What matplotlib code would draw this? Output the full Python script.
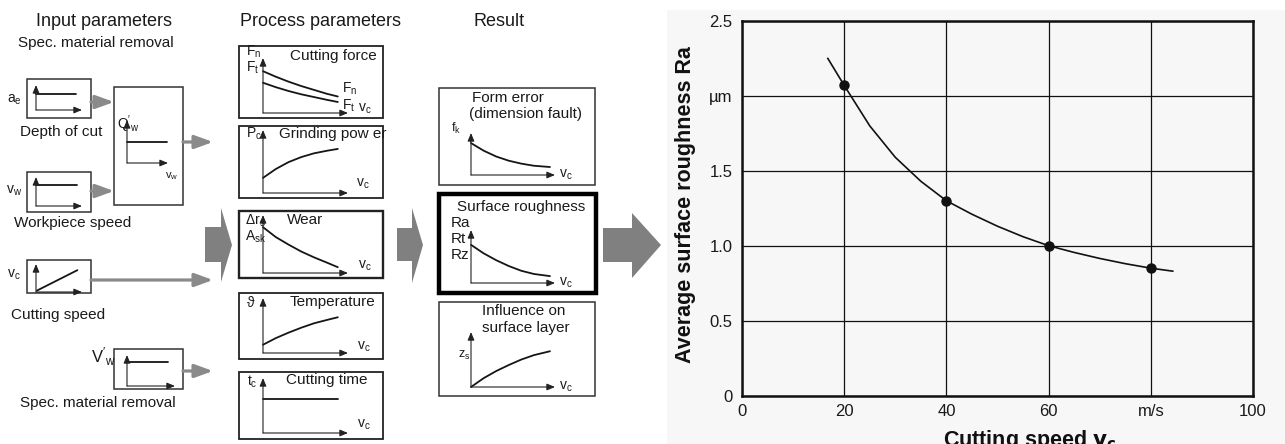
import matplotlib
matplotlib.use("Agg")
import matplotlib.pyplot as plt
from matplotlib.patches import Rectangle, Polygon

plt.rcParams['font.family'] = ['Liberation Sans', 'DejaVu Sans']
plt.rcParams['mathtext.fontset'] = 'custom'
plt.rcParams['mathtext.rm'] = 'Liberation Sans'
plt.rcParams['mathtext.it'] = 'Liberation Sans'
plt.rcParams['mathtext.default'] = 'regular'

# ---------------- data: main chart ----------------
speed_curve = [16.8, 20, 25, 30, 35, 40, 45, 50, 55, 60, 65, 70, 75, 80, 84.3]
ra_curve = [2.25, 2.07, 1.80, 1.59, 1.43, 1.30, 1.21, 1.13, 1.06, 1.00, 0.955, 0.915, 0.88, 0.85, 0.83]
speed_pts = [20, 40, 60, 80]
ra_pts = [2.07, 1.30, 1.00, 0.85]
x_ticks = [0, 20, 40, 60, 80, 100]
x_ticklabels = ['0', '20', '40', '60', 'm/s', '100']
y_ticks = [0, 0.5, 1.0, 1.5, 2.0, 2.5]
y_ticklabels = ['0', '0.5', '1.0', '1.5', 'µm', '2.5']

# ---------------- data: schematic sketches (normalised) ----------------
vc_proc = [0, 0.15, 0.30, 0.45, 0.60, 0.75, 0.88]
force_n = [0.76, 0.66, 0.57, 0.49, 0.42, 0.35, 0.30]
force_t = [0.55, 0.47, 0.40, 0.34, 0.29, 0.24, 0.20]
power_c = [0.24, 0.38, 0.49, 0.57, 0.63, 0.67, 0.70]
wear_s = [0.79, 0.62, 0.49, 0.37, 0.27, 0.18, 0.10]
temp_s = [0.15, 0.27, 0.37, 0.46, 0.54, 0.60, 0.65]
time_c = [0.62, 0.62, 0.62, 0.62, 0.62, 0.62, 0.62]
vc_res = [0, 0.15, 0.30, 0.45, 0.60, 0.75, 0.94]
form_k = [0.76, 0.58, 0.44, 0.34, 0.27, 0.22, 0.19]
rough_s = [0.72, 0.56, 0.43, 0.32, 0.23, 0.17, 0.13]
layer_z = [0.0, 0.16, 0.29, 0.40, 0.50, 0.58, 0.65]
ae_x, ae_y = [0, 0.87], [0.64, 0.64]
qw_x, qw_y = [0, 0.98], [0.49, 0.49]
vw_x, vw_y = [0, 0.90], [0.72, 0.72]
vc_x, vc_y = [0.02, 0.90], [0.05, 0.78]
Vw_x, Vw_y = [0, 0.85], [0.77, 0.77]

W, H = 1285, 444
fig = plt.figure(figsize=(W / 100, H / 100), dpi=100)


def fr(x0, y0, x1, y1):
    return [x0 / W, 1 - y1 / H, (x1 - x0) / W, (y1 - y0) / H]


cv = fig.add_axes([0, 0, 1, 1])
cv.set_xlim(0, W)
cv.set_ylim(H, 0)
cv.axis('off')

# faint page tint behind chart
cv.add_patch(Rectangle((667, 10), W - 667, H - 10, color='#f7f7f7', zorder=0, lw=0))

# ---------------- boxes ----------------
thin_boxes = [(27, 79, 91, 118), (114, 87, 183, 205), (27, 172, 91, 212),
              (27, 260, 91, 293), (114, 349, 183, 389),
              (439, 88, 595, 185), (439, 302, 595, 396)]
proc_boxes = [(239, 46, 383, 118), (239, 126, 383, 198), (239, 211, 383, 278),
              (239, 293, 383, 359), (239, 372, 383, 439)]
for (x0, y0, x1, y1) in thin_boxes:
    cv.add_patch(Rectangle((x0, y0), x1 - x0, y1 - y0, fill=False, ec='#333333', lw=1.1))
for i, (x0, y0, x1, y1) in enumerate(proc_boxes):
    cv.add_patch(Rectangle((x0, y0), x1 - x0, y1 - y0, fill=False, ec='#222222',
                           lw=1.7 if i == 2 else 1.3))
cv.add_patch(Rectangle((439, 194), 157, 99, fill=False, ec='black', lw=3.2))

# ---------------- mini plots ----------------
def mini(ox, oy, xe, yt, xs=None, series=()):
    a = fig.add_axes(fr(ox, yt, xe, oy))
    a.set_xlim(0, 1)
    a.set_ylim(0, 1)
    a.axis('off')
    ap = dict(arrowstyle='-|>,head_length=0.6,head_width=0.25', lw=0.8, color='#222222',
              shrinkA=0, shrinkB=0, mutation_scale=8)
    a.annotate('', xy=(1, 0), xytext=(0, 0), xycoords='axes fraction', arrowprops=ap)
    a.annotate('', xy=(0, 1), xytext=(0, 0), xycoords='axes fraction', arrowprops=ap)
    for ys in series:
        a.plot(xs, ys, color='#151515', lw=1.3, clip_on=False, solid_capstyle='round')
    return a


mini(36, 110, 82, 85, ae_x, [ae_y])
mini(127, 163, 168, 120, qw_x, [qw_y])
mini(36, 206, 82, 177, vw_x, [vw_y])
mini(36, 292, 82, 264, vc_x, [vc_y])
mini(127, 386, 175, 355, Vw_x, [Vw_y])
mini(263, 113, 348, 58, vc_proc, [force_n, force_t])
mini(263, 193, 348, 130, vc_proc, [power_c])
mini(263, 273, 348, 215, vc_proc, [wear_s])
mini(263, 353, 348, 298, vc_proc, [temp_s])
mini(263, 433, 348, 378, vc_proc, [time_c])
mini(471, 175, 555, 133, vc_res, [form_k])
mini(471, 283, 555, 230, vc_res, [rough_s])
mini(471, 387, 555, 332, vc_res, [layer_z])

# ---------------- gray connector arrows ----------------
gap = dict(arrowstyle='-|>,head_length=1.1,head_width=0.4', lw=2.3, color='#8a8a8a',
           shrinkA=0, shrinkB=0, mutation_scale=10)
for (x0, x1, y) in [(91, 114, 102), (91, 114, 191), (183, 213, 142), (91, 213, 280), (183, 213, 371)]:
    cv.annotate('', xy=(x1, y), xytext=(x0, y), xycoords='data', arrowprops=gap)

for pts in [[(205, 227), (221, 227), (221, 208), (232, 245), (221, 282), (221, 262), (205, 262)],
            [(397, 228), (412, 228), (412, 208), (423, 245), (412, 283), (412, 261), (397, 261)],
            [(603, 228), (632, 228), (632, 213), (661, 245), (632, 278), (632, 262), (603, 262)]]:
    cv.add_patch(Polygon(pts, closed=True, color='#808080', lw=0))

# ---------------- diagram texts ----------------
def t(x, y, s, size=11, ha='center', **kw):
    cv.text(x, y, s, fontsize=size, ha=ha, va='center', color='#1a1a1a', **kw)


t(104, 22, 'Input parameters', 13)
t(96, 43, 'Spec. material removal', 11)
t(61, 132, 'Depth of cut')
t(73, 223, 'Workpiece speed')
t(58, 315, 'Cutting speed')
t(98, 403, 'Spec. material removal')
t(320, 22, 'Process parameters', 13)
t(499, 22, 'Result', 13)

t(14, 100, '$a_e$', 10)
t(14, 191, '$v_w$', 10)
t(14, 275, '$v_c$', 10)
t(103, 357, "$V'_w$", 12)
t(117, 124, "$Q'_w$", 10, ha='left')
t(172, 176, '$v_w$', 8)

t(333, 56, 'Cutting force')
t(246, 52, '$F_n$', 10, ha='left')
t(246, 68, '$F_t$', 10, ha='left')
t(342, 89, '$F_n$', 10, ha='left')
t(342, 106, '$F_t$', 10, ha='left')
t(358, 109, '$v_c$', 10, ha='left')

t(333, 134, 'Grinding pow er')
t(246, 134, '$P_c$', 10, ha='left')
t(356, 184, '$v_c$', 10, ha='left')

t(305, 220, 'Wear')
t(245, 221, '$Δr_s$', 10, ha='left')
t(245, 237, '$A_{sk}$', 10, ha='left')
t(358, 266, '$v_c$', 10, ha='left')

t(332, 302, 'Temperature')
t(247, 303, 'ϑ', 10, ha='left')
t(357, 347, '$v_c$', 10, ha='left')

t(327, 380, 'Cutting time')
t(247, 382, '$t_c$', 10, ha='left')
t(357, 425, '$v_c$', 10, ha='left')

t(472, 98, 'Form error', ha='left')
t(469, 114, '(dimension fault)', ha='left')
t(451, 128, '$f_k$', 9, ha='left')
t(559, 175, '$v_c$', 10, ha='left')

t(521, 207, 'Surface roughness')
t(451, 223, 'Ra', 11, ha='left')
t(451, 239, 'Rt', 11, ha='left')
t(451, 255, 'Rz', 11, ha='left')
t(559, 283, '$v_c$', 10, ha='left')

t(524, 311, 'Influence on')
t(526, 328, 'surface layer')
t(458, 355, '$z_s$', 9, ha='left')
t(559, 387, '$v_c$', 10, ha='left')

# ---------------- main chart ----------------
ax = fig.add_axes(fr(742, 21, 1253, 395.5))
ax.set_facecolor('none')
ax.plot(speed_curve, ra_curve, color='#111111', lw=1.2, zorder=3)
ax.plot(speed_pts, ra_pts, 'o', color='#111111', ms=6.5, zorder=4)
ax.set_xlim(0, 100)
ax.set_ylim(0, 2.5)
ax.set_xticks(x_ticks)
ax.set_xticklabels(x_ticklabels)
ax.set_yticks(y_ticks)
ax.set_yticklabels(y_ticklabels)
ax.tick_params(length=0, labelsize=12, colors='#1a1a1a')
ax.tick_params(axis='y', pad=7)
ax.tick_params(axis='x', pad=6)
ax.grid(True, color='#111111', lw=0.9)
for sp in ax.spines.values():
    sp.set_linewidth(1.8)
    sp.set_color('#111111')

fig.text(686 / W, 1 - 205 / H, 'Average surface roughness Ra', rotation=90,
         fontsize=15.5, fontweight='bold', ha='center', va='center', color='#111111')
fig.text(1030 / W, 1 - 446 / H, 'Cutting speed $\\mathbf{v_c}$', fontsize=15.5,
         fontweight='bold', ha='center', va='baseline', color='#111111')

fig.savefig('out.png', dpi=100)
